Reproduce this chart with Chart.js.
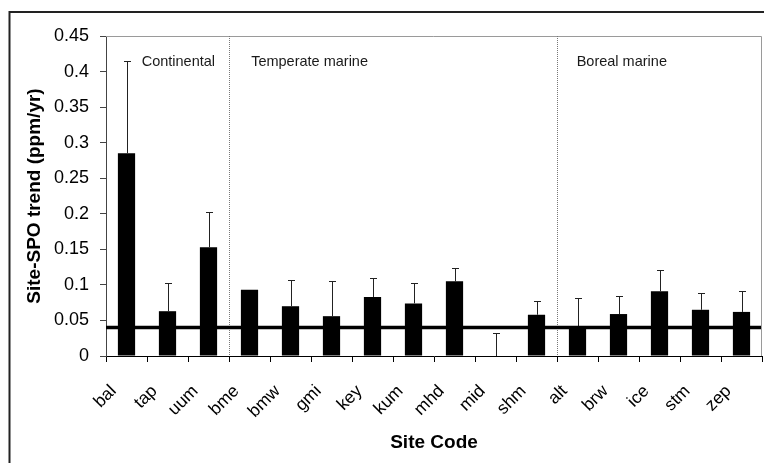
<!DOCTYPE html>
<html>
<head>
<meta charset="utf-8">
<title>Site-SPO trend</title>
<script src="https://cdn.jsdelivr.net/npm/chart.js@4.4.1/dist/chart.umd.min.js"></script>
<style>
  html, body { margin: 0; padding: 0; background: #fff; }
  #wrap { position: relative; width: 764px; height: 463px; }
</style>
</head>
<body>
<div id="wrap"><canvas id="trendChart"></canvas></div>
<script>
// Site codes and trends
const siteCodes = ['bal', 'tap', 'uum', 'bme', 'bmw', 'gmi', 'key', 'kum', 'mhd', 'mid', 'shm', 'alt', 'brw', 'ice', 'stm', 'zep'];
const trendValues = [0.285, 0.063, 0.153, 0.093, 0.070, 0.056, 0.083, 0.074, 0.105, 0, 0.058, 0.041, 0.059, 0.091, 0.065, 0.062];
// top of each upper error bar (null = none drawn)
const errorTops = [0.415, 0.102, 0.202, null, 0.107, 0.105, 0.109, 0.103, 0.124, 0.033, 0.078, 0.081, 0.085, 0.121, 0.089, 0.091];
const yTickLabels = ['0', '0.05', '0.1', '0.15', '0.2', '0.25', '0.3', '0.35', '0.4', '0.45'];
const referenceTrend = 0.04;

// Site groups: name and index of first site
const groupNames = ['Continental', 'Temperate marine', 'Boreal marine'];
const groupStarts = [0, 3, 11];

const FONT = '"Liberation Sans", Arial, sans-serif';

const decorations = {
  id: 'decorations',
  beforeDraw(chart) {
    const { ctx } = chart;
    ctx.save();
    ctx.strokeStyle = '#222';
    ctx.lineWidth = 2;
    ctx.strokeRect(9.5, 12, 1000, 1000);
    ctx.restore();
  },
  beforeDatasetsDraw(chart, args, opts) {
    const { ctx, chartArea: a, scales: { x } } = chart;
    ctx.save();
    // plot frame top and right
    ctx.strokeStyle = '#9a9a9a';
    ctx.lineWidth = 1;
    ctx.beginPath();
    ctx.moveTo(a.left, a.top + 0.5);
    ctx.lineTo(a.right - 0.5, a.top + 0.5);
    ctx.lineTo(a.right - 0.5, a.bottom);
    ctx.stroke();

    // dotted group separators
    ctx.strokeStyle = '#777';
    ctx.setLineDash([1, 1]);
    groupStarts.slice(1).forEach((i) => {
      const px = Math.round((x.getPixelForValue(i - 1) + x.getPixelForValue(i)) / 2) + 0.5;
      ctx.beginPath();
      ctx.moveTo(px, a.top);
      ctx.lineTo(px, a.bottom);
      ctx.stroke();
    });
    ctx.setLineDash([]);

    // group labels
    ctx.font = `14.5px ${FONT}`;
    ctx.fillStyle = '#1a1a1a';
    ctx.textBaseline = 'alphabetic';
    groupNames.forEach((name, k) => {
      ctx.fillText(name, x.getPixelForValue(opts.labelAt[k]), a.top + 29.5);
    });
    ctx.restore();
  },
  afterDatasetsDraw(chart) {
    const { ctx, chartArea: a, scales: { x, y } } = chart;
    ctx.save();
    // upper error bars
    ctx.strokeStyle = '#222';
    ctx.lineWidth = 1;
    errorTops.forEach((top, i) => {
      if (top == null) return;
      const px = Math.round(x.getPixelForValue(i)) + 0.5;
      const y0 = y.getPixelForValue(trendValues[i]);
      const y1 = Math.round(y.getPixelForValue(top)) + 0.5;
      ctx.beginPath();
      ctx.moveTo(px, y0);
      ctx.lineTo(px, y1);
      ctx.moveTo(px - 3.5, y1);
      ctx.lineTo(px + 3.5, y1);
      ctx.stroke();
    });

    // reference trend line
    const ry = y.getPixelForValue(referenceTrend);
    ctx.strokeStyle = '#000';
    ctx.lineWidth = 3.5;
    ctx.beginPath();
    ctx.moveTo(a.left, ry);
    ctx.lineTo(a.right - 1, ry);
    ctx.stroke();
    ctx.restore();
  },
};

new Chart(document.getElementById('trendChart'), {
  type: 'bar',
  data: {
    labels: siteCodes,
    datasets: [{
      data: trendValues,
      backgroundColor: '#000',
      borderWidth: 0,
      categoryPercentage: 1,
      barPercentage: 0.42,
    }],
  },
  options: {
    responsive: true,
    maintainAspectRatio: false,
    animation: false,
    events: [],
    layout: {
      padding: { left: 0, top: 36, right: 2, bottom: 0 },
    },
    plugins: {
      legend: { display: false },
      tooltip: { enabled: false },
      decorations: { labelAt: [0.37, 3.04, 10.98] },
    },
    scales: {
      x: {
        afterFit(scale) {
          scale.height = 107;
          scale.paddingLeft = 0;
          scale.paddingRight = 0;
        },
        grid: {
          display: true,
          drawOnChartArea: false,
          tickLength: 6,
          color: '#000',
          offset: true,
        },
        border: { display: true, color: '#000', width: 1 },
        ticks: {
          minRotation: 45,
          maxRotation: 45,
          padding: 19,
          labelOffset: -13,
          color: '#000',
          font: { family: FONT, size: 17.5 },
        },
        title: {
          display: true,
          text: 'Site Code',
          color: '#000',
          font: { family: FONT, size: 19, weight: 'bold' },
          padding: { top: 0, bottom: 9 },
        },
      },
      y: {
        min: 0,
        max: 0.45,
        afterFit(scale) { scale.width = 106; },
        grid: {
          display: true,
          drawOnChartArea: false,
          tickLength: 6,
          color: '#444',
        },
        border: { display: true, color: '#444', width: 1 },
        ticks: {
          stepSize: 0.05,
          padding: 11,
          color: '#000',
          font: { family: FONT, size: 18 },
          callback: (value, index) => yTickLabels[index],
        },
        title: {
          display: true,
          text: 'Site-SPO trend (ppm/yr)',
          color: '#000',
          font: { family: FONT, size: 19, weight: 'bold' },
          padding: { top: 23.5, bottom: 0 },
        },
      },
    },
  },
  plugins: [decorations],
});
</script>
</body>
</html>
